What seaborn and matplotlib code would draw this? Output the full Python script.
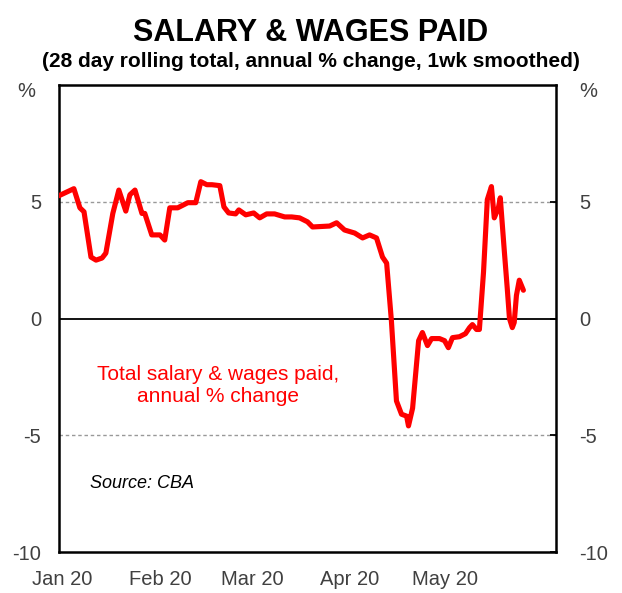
import numpy as np
import pandas as pd
import matplotlib
matplotlib.use("Agg")
import matplotlib.pyplot as plt
from matplotlib.transforms import ScaledTranslation
import seaborn as sns

# Days since 1 Jan 2020 and annual % change
days = [0, 4.7, 6.6, 7.9, 10.1, 11.7, 13.6, 14.8, 17.0, 18.9, 21.1, 22.4, 24.0,
        26.2, 27.1, 29.3, 31.9, 33.4, 35.0, 37.5, 40.7, 43.2, 44.8, 46.7, 48.3,
        50.8, 52.1, 53.6, 55.8, 56.8, 59.0, 61.5, 63.4, 65.6, 68.1, 71.3, 73.5,
        76.0, 78.5, 80.1, 85.5, 87.7, 90.2, 93.4, 95.9, 98.1, 100.3, 102.2,
        103.5, 105.0, 106.6, 108.2, 109.8, 110.4, 111.7, 113.6, 114.8, 116.4,
        117.7, 120.2, 121.8, 123.0, 124.3, 126.5, 128.4, 129.7, 130.6, 131.9,
        132.8, 134.1, 135.3, 136.0, 136.6, 137.5, 138.8, 139.4, 140.7, 141.6,
        142.3, 143.2, 143.8, 144.5, 145.4, 146.7]
values = [5.26, 5.56, 4.74, 4.57, 2.63, 2.50, 2.59, 2.80, 4.50, 5.50, 4.60, 5.30,
          5.50, 4.50, 4.50, 3.58, 3.58, 3.36, 4.74, 4.74, 4.96, 4.96, 5.86, 5.73,
          5.73, 5.69, 4.78, 4.52, 4.48, 4.65, 4.44, 4.52, 4.31, 4.48, 4.48, 4.35,
          4.35, 4.31, 4.14, 3.92, 3.96, 4.10, 3.79, 3.66, 3.45, 3.58, 3.45, 2.63,
          2.37, -0.09, -3.53, -4.10, -4.18, -4.60, -3.84, -0.95, -0.60, -1.16,
          -0.86, -0.86, -0.95, -1.25, -0.82, -0.78, -0.65, -0.39, -0.26, -0.47,
          -0.47, 1.98, 5.09, 5.39, 5.65, 4.31, 4.74, 5.17, 2.84, 1.29, 0.00,
          -0.39, -0.17, 0.99, 1.64, 1.21]

y_ticks = [-10, -5, 0, 5]
month_labels = ["Jan 20", "Feb 20", "Mar 20", "Apr 20", "May 20"]
month_starts = ["2020-01-01", "2020-02-01", "2020-03-01", "2020-04-01", "2020-05-01"]

title = "SALARY & WAGES PAID"
subtitle = "(28 day rolling total, annual % change, 1wk smoothed)"
series_label = "Total salary & wages paid,\nannual % change"
source = "Source: CBA"

sns.set_theme(style="white")
plt.rcParams["font.family"] = ["Liberation Sans", "DejaVu Sans"]

df = pd.DataFrame({
    "date": pd.Timestamp("2020-01-01") + pd.to_timedelta(days, unit="D"),
    "value": values,
})

TICK_COLOR = "#404040"

fig = plt.figure(figsize=(6.22, 5.93), dpi=100)
ax = fig.add_axes([59 / 622, 1 - 552 / 593, (556 - 59) / 622, (552 - 85) / 593])

ax.axhline(0, color="black", lw=1.3, zorder=1)
for yv in (5, -5):
    ax.axhline(yv, color="#999999", lw=1.0, ls=(0, (2.5, 2)), zorder=1)

sns.lineplot(data=df, x="date", y="value", ax=ax, color="#FF0000", lw=3.7,
             zorder=3, legend=False)

ax.set_xlim(pd.Timestamp("2020-01-01"), pd.Timestamp("2020-06-06"))
ax.set_ylim(-10, 10)
ax.set_yticks(y_ticks)
ax.set_yticklabels([str(v) for v in y_ticks])
ax.set_xticks(pd.to_datetime(month_starts))
ax.set_xticklabels(month_labels)
ax.set_xlabel("")
ax.set_ylabel("")

for s in ax.spines.values():
    s.set_color("black")
    s.set_linewidth(1.8)

ax.tick_params(axis="x", length=0, pad=13, labelsize=14.5, labelcolor=TICK_COLOR)
ax.tick_params(axis="y", left=False, right=False, length=0, labelleft=True,
               labelright=False, labelsize=14.5, labelcolor=TICK_COLOR, pad=13)
shift = ScaledTranslation(3 / 100, 0, fig.dpi_scale_trans)
for lab in ax.get_xticklabels():
    lab.set_transform(lab.get_transform() + shift)
ax.grid(False)

ax2 = ax.twinx()
ax2.set_ylim(-10, 10)
ax2.set_yticks(y_ticks)
ax2.set_yticklabels([str(v) for v in y_ticks])
ax2.tick_params(axis="y", left=False, right=True, direction="in", length=4,
                width=1.3, color="black", labelleft=False, labelright=True,
                labelsize=14.5, labelcolor=TICK_COLOR, pad=17)
ax2.grid(False)
for s in ax2.spines.values():
    s.set_visible(False)

fig.text(0.5, 1 - 41 / 593, title, ha="center", va="baseline", fontsize=22,
         fontweight="bold", color="black")
fig.text(0.5, 1 - 67 / 593, subtitle, ha="center", va="baseline", fontsize=15,
         fontweight="bold", color="black")
fig.text(26 / 622, 1 - 92 / 593, "%", ha="center", va="center", fontsize=14.5,
         color=TICK_COLOR)
fig.text(588 / 622, 1 - 92 / 593, "%", ha="center", va="center", fontsize=14.5,
         color=TICK_COLOR)

fig.text(218 / 622, 1 - 385 / 593, series_label, ha="center", va="center",
         fontsize=15, color="#FF0000", linespacing=1.2)
fig.text(90 / 622, 1 - 484 / 593, source, ha="left", va="center", fontsize=13,
         style="italic", color="black")

fig.savefig("out.png", dpi=100)
